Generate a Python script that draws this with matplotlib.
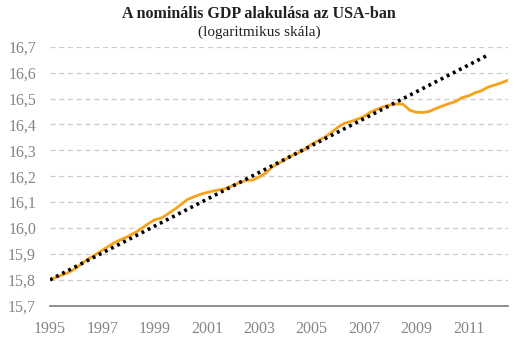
import matplotlib
matplotlib.use("Agg")
import matplotlib.pyplot as plt
import numpy as np

# quarterly log nominal GDP, 1995Q1 .. 2012Q3
start_year = 1995
gdp_log = [
    15.800, 15.810, 15.820, 15.830,   # 1995
    15.845, 15.866, 15.882, 15.898,   # 1996
    15.914, 15.930, 15.945, 15.957,   # 1997
    15.968, 15.982, 15.998, 16.016,   # 1998
    16.032, 16.038, 16.054, 16.071,   # 1999
    16.090, 16.110, 16.120, 16.130,   # 2000
    16.137, 16.143, 16.148, 16.153,   # 2001
    16.165, 16.175, 16.184, 16.185,   # 2002
    16.197, 16.212, 16.236, 16.250,   # 2003
    16.265, 16.280, 16.290, 16.305,   # 2004
    16.323, 16.337, 16.350, 16.368,   # 2005
    16.388, 16.404, 16.411, 16.420,   # 2006
    16.430, 16.447, 16.458, 16.468,   # 2007
    16.475, 16.479, 16.478, 16.455,   # 2008
    16.447, 16.446, 16.450, 16.461,   # 2009
    16.471, 16.480, 16.488, 16.503,   # 2010
    16.510, 16.522, 16.530, 16.544,   # 2011
    16.552, 16.560, 16.570,           # 2012
]
trend_x = [1995, 2011.75]
trend_y = [15.80, 16.668]

year_ticks = [1995, 1997, 1999, 2001, 2003, 2005, 2007, 2009, 2011]
y_ticks = [15.7, 15.8, 15.9, 16.0, 16.1, 16.2, 16.3, 16.4, 16.5, 16.6, 16.7]

x = start_year + np.arange(len(gdp_log)) * 0.25

serif = ["Liberation Serif", "DejaVu Serif"]
grey = "#858585"

fig = plt.figure(figsize=(5.30, 3.41), dpi=100)
ax = fig.add_axes([50 / 530, 1 - 305.7 / 341, 457.7 / 530, 259 / 341])

ax.plot(x, gdp_log, color="#F7A21B", lw=2.0, zorder=3)
ax.plot(trend_x, trend_y, color="black", lw=2.6, linestyle=(0, (0.8, 1.1)), zorder=4)

ax.set_xlim(x[0], x[-1])
ax.set_ylim(15.7, 16.7)
ax.set_yticks(y_ticks)
ax.set_yticklabels([f"{v:.1f}".replace(".", ",") for v in y_ticks])
ax.set_xticks(year_ticks)
ax.set_xticklabels([str(y) for y in year_ticks])

ax.grid(axis="y", color="#cccccc", linestyle=(0, (4, 3)), lw=0.9)
ax.set_axisbelow(True)
for side in ["left", "right", "top"]:
    ax.spines[side].set_visible(False)
ax.spines["bottom"].set_color(grey)
ax.spines["bottom"].set_linewidth(1.3)
ax.tick_params(length=0, colors=grey, labelsize=11.5)
ax.tick_params(axis="x", pad=11)
ax.tick_params(axis="y", pad=10)
for lab in ax.get_xticklabels() + ax.get_yticklabels():
    lab.set_family(serif)

fig.text(259 / 530, 1 - 14 / 341, "A nominális GDP alakulása az USA-ban",
         ha="center", va="center", fontsize=11.5, fontweight="bold",
         family=serif, color="#222222")
fig.text(259 / 530, 1 - 32 / 341, "(logaritmikus skála)",
         ha="center", va="center", fontsize=11, family=serif, color="#222222")

fig.savefig("out.png", dpi=100)
